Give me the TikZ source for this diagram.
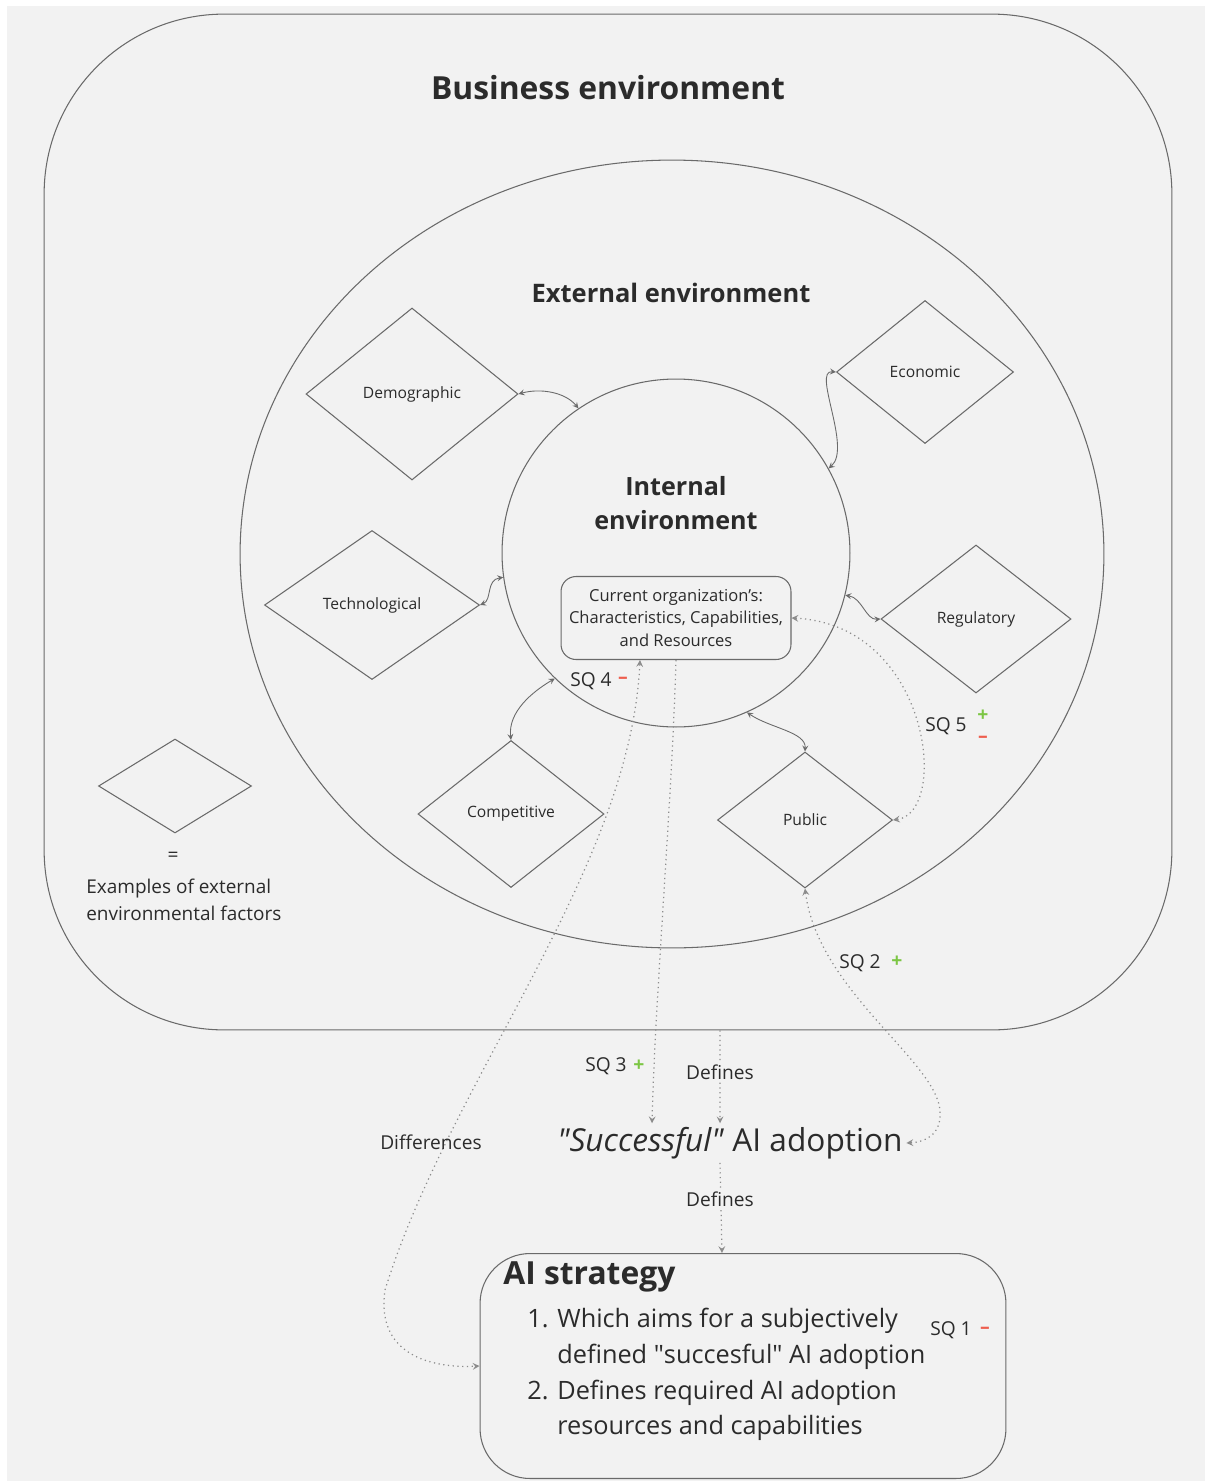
\documentclass[tikz,border=0pt]{standalone}
\usepackage{fontspec}
\setmainfont{Open Sans}
\usetikzlibrary{shapes.geometric}
\definecolor{bg}{HTML}{F2F2F2}
\definecolor{ink}{HTML}{2B2B2B}
\definecolor{edge}{HTML}{6A6A6A}
\definecolor{dots}{HTML}{8C8C8C}
\definecolor{sqgreen}{HTML}{7CC644}
\definecolor{sqred}{HTML}{EE5E4E}
\begin{document}
\begin{tikzpicture}[>=stealth,x=0.02cm,y=-0.02cm,
  outline/.style={draw=edge,line width=0.6pt,inner sep=0pt},
  factor/.style={diamond,draw=edge,line width=0.6pt,inner sep=0pt,aspect=1,text=ink,font=\fontsize{8.9}{10}\selectfont},
  tie/.style={<->,draw=edge,line width=0.5pt},
  hint/.style={draw=dots,line width=0.7pt,dotted},
  lbl/.style={text=ink,inner sep=1pt,font=\fontsize{10.9}{13}\selectfont},
  sign/.style={inner sep=0pt,font=\bfseries\fontsize{11}{13}\selectfont},
  title/.style={text=ink,inner sep=0pt,font=\bfseries\fontsize{18.1}{22}\selectfont}]
% 画布
\useasboundingbox (0,0) rectangle (1205,1481);
\fill[bg] (7,6) rectangle (1205,1481);
% 环境
\node[outline,rounded corners=3.6cm,minimum width=22.56cm,minimum height=20.32cm] (biz) at (608,522) {};
\node[title] (biztitle) at (608,88) {Business environment};
\node[outline,ellipse,minimum width=17.28cm,minimum height=15.76cm] (ext) at (672,554) {};
\node[title,font=\bfseries\fontsize{14.5}{20}\selectfont] (exttitle) at (671,293) {External environment};
\node[outline,circle,minimum size=6.96cm] (int) at (676,553) {};
\node[title,align=center,font=\bfseries\fontsize{14.3}{19.8}\selectfont] (inttitle) at (676,503) {Internal\\environment};
\node[outline,rounded corners=0.3cm,minimum width=4.6cm,minimum height=1.66cm,align=center,text=ink,font=\fontsize{9.4}{13}\selectfont] (org) at (676,618) {Current organization's:\\Characteristics, Capabilities,\\and Resources};
% 外部因素
\foreach \n/\x/\y/\w/\h/\t in {demo/412/394/212/172/Demographic, econ/925/372/177/143/Economic, tech/372/605/215/149/Technological, reg/976/619/190/148/Regulatory, comp/511/814/186/147/Competitive, pub/805/820/175/136/Public}
  \node[factor,minimum width=\w*0.02cm,minimum height=\h*0.02cm] (\n) at (\x,\y) {\t};
\draw[tie] (demo.east) .. controls (540,388) and (565,392) .. (int.124);
\draw[tie] (econ.west) .. controls (812,370) and (852,448) .. (int.29);
\draw[tie] (tech.east) .. controls (492,600) and (486,580) .. (int.188);
\draw[tie] (reg.west) .. controls (866,620) and (862,598) .. (int.346);
\draw[tie] (comp.north) .. controls (508,712) and (532,692) .. (int.226);
\draw[tie] (pub.north) .. controls (806,732) and (770,728) .. (int.294);
% 图例
\node[factor,minimum width=3.06cm,minimum height=1.88cm] (key) at (175,786) {};
\node[lbl] (keyeq) at (173,857) {=};
\node[lbl,inner sep=0pt,anchor=west,align=left,font=\fontsize{10.8}{15.3}\selectfont] (keytext) at (86,900) {Examples of external\\environmental factors};
% 结果
\node[text=ink,inner sep=2pt,font=\fontsize{18}{22}\selectfont] (succ) at (730,1143) {\textit{\textquotedbl Successful\textquotedbl} AI adoption};
\node[outline,rounded corners=1cm,minimum width=10.52cm,minimum height=4.5cm] (ai) at (743,1366) {};
\node[title,anchor=west] (aititle) at (503,1277) {AI strategy};
\node[anchor=north west,inner sep=0pt,text=ink,font=\fontsize{14.4}{20.4}\selectfont] (ailist) at (527,1302) {\begin{tabular}{@{}r@{\hspace{5pt}}l@{}}1.&Which aims for a subjectively\\&defined \textquotedbl succesful\textquotedbl{} AI adoption\\2.&Defines required AI adoption\\&resources and capabilities\end{tabular}};
% 虚线
\draw[hint,<->] (pub.east) .. controls (950,812) and (930,625) .. (org.east);
\draw[hint,<->] ([xshift=-0.72cm]org.south) .. controls (630,870) and (450,1080) .. (385,1290) .. controls (375,1360) and (440,1368) .. (ai.west);
\draw[hint,->] (org.south) .. controls (672,800) and (655,1000) .. ([xshift=-1.56cm]succ.north);
\draw[hint,->] ([xshift=2.24cm]biz.south) -- ([xshift=-0.2cm]succ.north);
\draw[hint,->] ([xshift=-0.2cm]succ.south) -- ([xshift=-0.42cm]ai.north);
\draw[hint,<->] (pub.south) .. controls (818,990) and (935,1060) .. (940,1110) .. controls (942,1135) and (925,1142) .. (succ.east);
% 标签
\node[lbl] (sq4) at (591,681) {SQ 4};
\node[sign,text=sqred] (sq4m) at (623,680) {--};
\node[lbl] (sq5) at (946,726) {SQ 5};
\node[sign,text=sqgreen] (sq5p) at (983,716) {+};
\node[sign,text=sqred] (sq5m) at (983,739) {--};
\node[lbl] (sq2) at (860,963) {SQ 2};
\node[sign,text=sqgreen] (sq2p) at (897,962) {+};
\node[lbl] (sq3) at (606,1066) {SQ 3};
\node[sign,text=sqgreen] (sq3p) at (639,1066) {+};
\node[lbl] (sq1) at (951,1330) {SQ 1};
\node[sign,text=sqred] (sq1m) at (985,1330) {--};
\node[lbl,fill=bg] (def1) at (720,1072) {Defines};
\node[lbl,fill=bg] (def2) at (720,1199) {Defines};
\node[lbl] (diff) at (431,1142) {Differences};
\end{tikzpicture}
\end{document}
